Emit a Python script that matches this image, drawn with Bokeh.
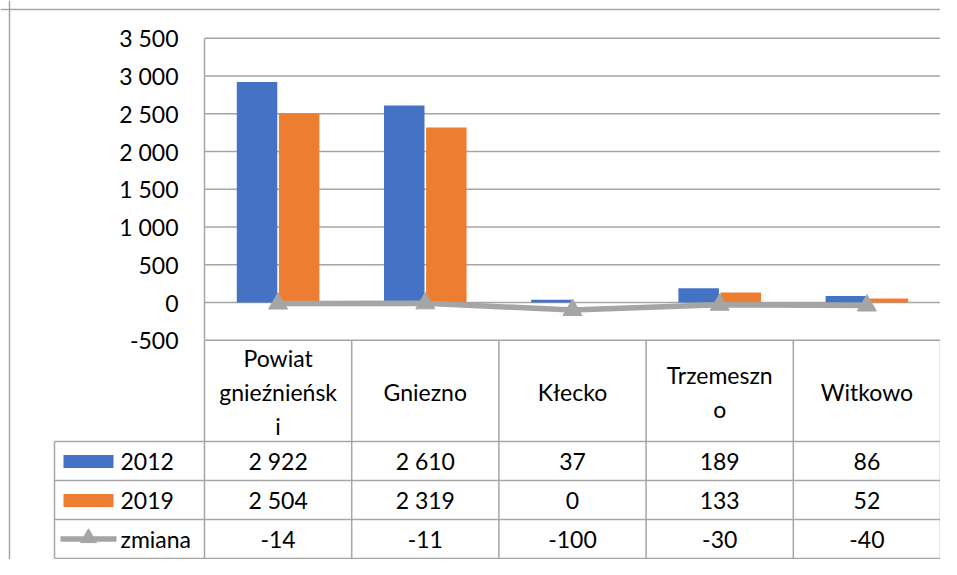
from bokeh.plotting import figure
from bokeh.models import Range1d, FixedTicker, Span
from bokeh.core.properties import value
from bokeh.embed import file_html
from bokeh.resources import INLINE

# ---------------- data ----------------
categories = ["Powiat gnieźnieński", "Gniezno", "Kłecko", "Trzemeszno", "Witkowo"]
header_labels = ["Powiat\ngnieźnieńsk\ni", "Gniezno", "Kłecko", "Trzemeszn\no", "Witkowo"]
values_2012 = [2922, 2610, 37, 189, 86]
values_2019 = [2504, 2319, 0, 133, 52]
zmiana = [-14, -11, -100, -30, -40]
series_names = ["2012", "2019", "zmiana"]
y_ticks = [-500, 0, 500, 1000, 1500, 2000, 2500, 3000, 3500]

# ---------------- style / layout constants ----------------
BLUE = "#4472C4"
ORANGE = "#ED7D31"
GRAY = "#A5A5A5"
LINE = "#A6A6A6"
FONT = "Lato"
FS = "23px"

W, H = 940, 559                 # figure size (frame fills the whole figure)
ORIGIN = 0                      # picture coordinate of the figure's top-left corner
X0_PX = 204                     # left edge of category area
CAT_PX = 147.2                  # width of one category column
ZERO_PX = 302                   # y of value 0
PX_PER_VAL = 0.0755             # px per value unit
TBL_PX = 340                    # y of table top


def fmt(v):
    return f"{v:,}".replace(",", " ")


def xu(px):  # picture x -> category units
    return (px - X0_PX) / CAT_PX


n = len(categories)
idx = list(range(n))

p = figure(width=W, height=H, output_backend="svg", toolbar_location=None,
           x_range=Range1d(xu(ORIGIN), xu(ORIGIN + W)),
           y_range=Range1d((ZERO_PX - (ORIGIN + H)) / PX_PER_VAL, (ZERO_PX - ORIGIN) / PX_PER_VAL),
           x_axis_location=None,
           min_border_left=0, min_border_right=0, min_border_top=0, min_border_bottom=0)
p.extra_y_ranges = {"tbl": Range1d(ORIGIN + H - TBL_PX, ORIGIN - TBL_PX)}
p.outline_line_color = None
p.background_fill_color = "white"
p.border_fill_color = "white"
p.grid.visible = False

# value axis sitting at the left edge of the category area
yax = p.yaxis[0]
yax.fixed_location = 0
yax.ticker = FixedTicker(ticks=y_ticks)
yax.major_label_overrides = {t: fmt(t) for t in y_ticks}
yax.bounds = (min(y_ticks), max(y_ticks))
yax.axis_line_color = LINE
yax.axis_line_width = 1.5
yax.major_tick_line_color = None
yax.minor_tick_line_color = None
yax.major_tick_out = 0
yax.major_tick_in = 0
yax.major_label_standoff = 26
yax.major_label_text_font = FONT
yax.major_label_text_font_size = FS
yax.major_label_text_color = "#000000"

# horizontal gridlines over the category area
p.segment(x0=[0] * len(y_ticks), x1=[n] * len(y_ticks), y0=y_ticks, y1=y_ticks,
          line_color=LINE, line_width=1.5)

# outer chart border (top and left)
p.add_layout(Span(location=xu(9), dimension="height", line_color=LINE, line_width=1.5))
p.add_layout(Span(location=9 - TBL_PX, dimension="width", y_range_name="tbl",
                  line_color=LINE, line_width=1.5))

# bars and line
centers = [i + 0.5 for i in idx]
p.vbar(x=[c - 0.143 for c in centers], top=values_2012, bottom=0, width=0.275,
       fill_color=BLUE, line_color=None)
p.vbar(x=[c + 0.143 for c in centers], top=values_2019, bottom=0, width=0.275,
       fill_color=ORANGE, line_color=None)
p.line(x=centers, y=zmiana, line_color=GRAY, line_width=5.5)
p.scatter(x=centers, y=zmiana, marker="triangle", size=19, fill_color=GRAY, line_color=GRAY)

# ---------------- data table ----------------
rows = [0, 101, 140, 179, 218]
x_left = xu(54)
# horizontal rules (below header)
p.segment(x0=[x_left] * 4, x1=[n] * 4, y0=rows[1:], y1=rows[1:], y_range_name="tbl",
          line_color=LINE, line_width=1.5)
# vertical rules
vx = [x_left] + list(range(n + 1))
p.segment(x0=vx, x1=vx, y0=[rows[1]] + [rows[0]] * (n + 1), y1=[rows[-1]] * (n + 2),
          y_range_name="tbl", line_color=LINE, line_width=1.5)

p.text(x=centers, y=[(rows[0] + rows[1]) / 2 + 1] * n, text=header_labels, y_range_name="tbl",
       text_align="center", text_baseline="middle", text_font=value(FONT),
       text_font_size=FS, text_color="#000000", text_line_height=1.2)

row_mid = [(rows[k] + rows[k + 1]) / 2 for k in range(1, 4)]
for vals, ym in zip([values_2012, values_2019, zmiana], row_mid):
    p.text(x=centers, y=[ym] * n, text=[fmt(v) for v in vals], y_range_name="tbl",
           text_align="center", text_baseline="middle", text_font=value(FONT),
           text_font_size=FS, text_color="#000000")

# legend keys in the table
p.text(x=[xu(120)] * 3, y=row_mid, text=series_names, y_range_name="tbl",
       text_align="left", text_baseline="middle", text_font=value(FONT),
       text_font_size=FS, text_color="#000000")
p.quad(left=[xu(63)] * 2, right=[xu(113)] * 2,
       top=[row_mid[0] - 6, row_mid[1] - 6], bottom=[row_mid[0] + 7, row_mid[1] + 7],
       y_range_name="tbl", fill_color=[BLUE, ORANGE], line_color=None)
p.line(x=[xu(60), xu(116)], y=[row_mid[2]] * 2, y_range_name="tbl",
       line_color=GRAY, line_width=5.5)
p.scatter(x=[xu(88)], y=[row_mid[2] - 1], y_range_name="tbl", marker="triangle", size=16,
          fill_color=GRAY, line_color=GRAY)

open("out.html", "w").write(file_html(p, INLINE))
